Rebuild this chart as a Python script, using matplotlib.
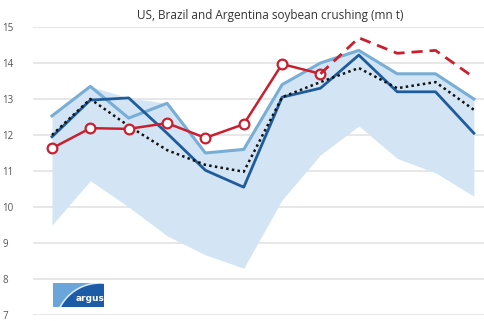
import matplotlib
matplotlib.use("Agg")
import matplotlib.pyplot as plt
from matplotlib.patches import Rectangle, Circle
import numpy as np

# --- Данные (mn t), 12 месяцев ---
months = np.arange(12)
band_low = [9.5, 10.73, 10.0, 9.2, 8.67, 8.3, 10.2, 11.45, 12.25, 11.35, 10.95, 10.3]
light_line = [12.53, 13.35, 12.47, 12.88, 11.5, 11.6, 13.4, 14.0, 14.35, 13.7, 13.7, 13.0]
dark_line = [11.95, 12.97, 13.03, 12.05, 11.02, 10.55, 13.05, 13.3, 14.22, 13.2, 13.2, 12.05]
avg_line = [12.0, 13.0, 12.25, 11.58, 11.17, 10.98, 13.05, 13.47, 13.86, 13.3, 13.47, 12.7]
actual = [11.63, 12.19, 12.17, 12.33, 11.92, 12.3, 13.97, 13.7]
forecast = [13.7, 14.7, 14.27, 14.35, 13.6]
yticks = [7, 8, 9, 10, 11, 12, 13, 14, 15]
title = "US, Brazil and Argentina soybean crushing (mn t)"

band_high = np.maximum.reduce([light_line, dark_line, avg_line])

# --- Фигура ---
fig = plt.figure(figsize=(4.85, 3.21), dpi=100)
ax = fig.add_axes([33 / 485, 6 / 321, 452 / 485, 288 / 321])
ax.set_xlim(-0.495, 11.29)
ax.set_ylim(7, 15)

ax.fill_between(months, band_low, band_high, color="#d3e5f4", lw=0, zorder=1)
ax.plot(months, light_line, color="#78aed6", lw=2.2, zorder=3)
ax.plot(months, dark_line, color="#1f5c9c", lw=2.0, zorder=4)
ax.plot(months, avg_line, color="#111111", lw=1.8, ls=(0, (1, 1.3)), zorder=5)
ax.plot(months[:len(actual)], actual, color="#c8202e", lw=1.8, marker="o", ms=7,
        mfc="white", mec="#c8202e", mew=1.6, zorder=6)
ax.plot(months[len(actual) - 1:], forecast, color="#c8202e", lw=2.0,
        ls=(0, (4, 2.5)), zorder=6)

# --- Оси ---
ax.set_yticks(yticks)
ax.set_yticklabels([str(t) for t in yticks], fontsize=7, color="#555555",
                   family="Open Sans")
ax.tick_params(axis="x", length=0, labelbottom=False)
ax.tick_params(axis="y", length=0, pad=22)
for lbl in ax.get_yticklabels():
    lbl.set_horizontalalignment("left")
ax.grid(axis="y", color="#e3e3e3", lw=1.2)
ax.set_axisbelow(True)
for s in ax.spines.values():
    s.set_visible(False)

fig.text(270 / 485, 1 - 15 / 321, title, ha="center", va="center",
         fontsize=8.5, color="#333333", family="Open Sans")

# --- Логотип argus ---
lax = fig.add_axes([53 / 485, 1 - 307 / 321, 51 / 485, 24 / 321])
lax.set_xlim(0, 51)
lax.set_ylim(0, 24)
lax.axis("off")
bg = Rectangle((0, 0), 51, 24, color="#6aa6da")
lax.add_patch(bg)
disk = Circle((47, -21), 45, facecolor="#1c5ba6", edgecolor="#d5e8f8", lw=1.2)
lax.add_patch(disk)
disk.set_clip_path(bg)
lax.text(37, 8.5, "argus", color="white", fontsize=6.5, ha="center", va="center",
         family="Liberation Sans Narrow", weight="bold")

fig.savefig("out.png", dpi=100)
